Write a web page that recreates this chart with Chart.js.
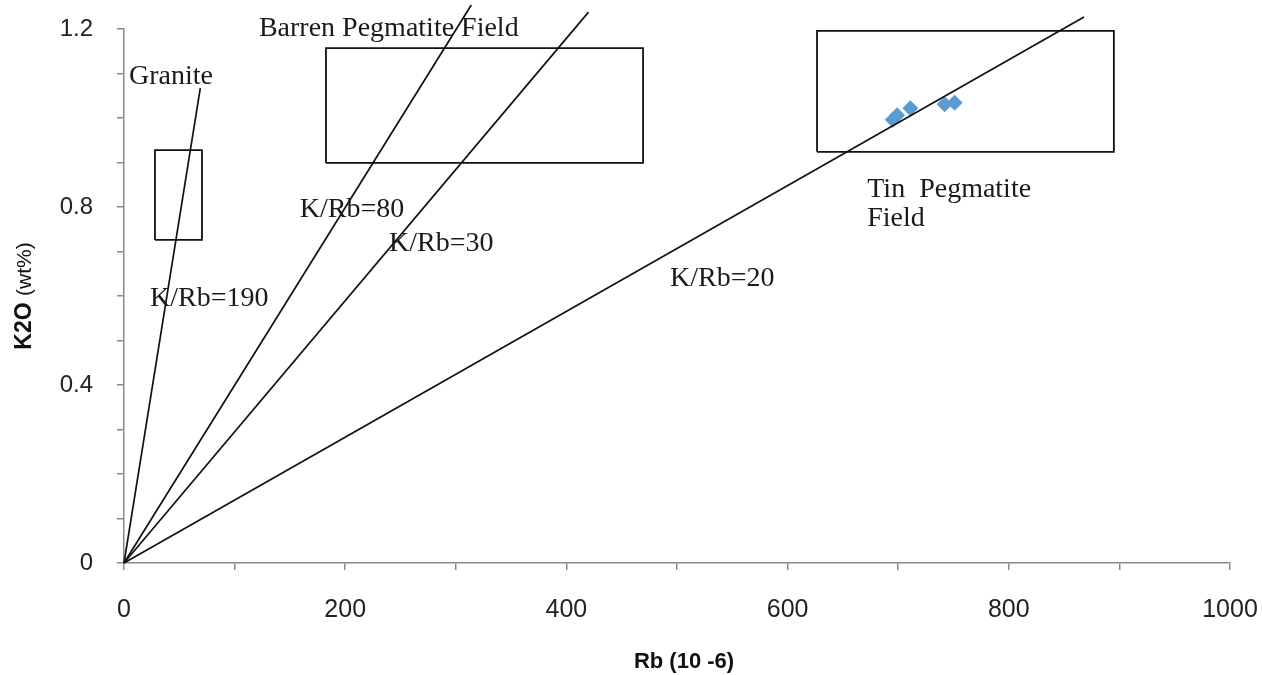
<!DOCTYPE html>
<html>
<head>
<meta charset="utf-8">
<script src="https://cdn.jsdelivr.net/npm/chart.js@4/dist/chart.umd.min.js"></script>
<style>
html,body{margin:0;padding:0;background:#fff;}
#wrap{width:1262px;height:675px;position:relative;}
</style>
</head>
<body>
<div id="wrap"><canvas id="c" width="1262" height="675"></canvas></div>
<script>
// ---- data ----
const xTickLabels = ['0', '200', '400', '600', '800', '1000'];
const yTickLabels = ['0', '0.4', '0.8', '1.2'];

// K/Rb reference lines from the origin
const ratioLineNames = ['K/Rb=190', 'K/Rb=80', 'K/Rb=30', 'K/Rb=20'];
const ratioLineEndRb = [69, 314, 420, 868];
const ratioLineEndK2O = [1.067, 1.254, 1.238, 1.227];

// Field boxes: Rb min/max, K2O min/max
const boxNames = ['Granite', 'Barren Pegmatite Field', 'Tin Pegmatite Field'];
const boxRbMin = [28, 182.6, 626.6];
const boxRbMax = [70.5, 469.3, 895];
const boxK2OMin = [0.726, 0.899, 0.924];
const boxK2OMax = [0.928, 1.157, 1.196];

// Samples
const sampleRb = [695, 699, 711, 742, 751];
const sampleK2O = [0.996, 1.006, 1.022, 1.031, 1.034];

// Text annotations (anchored in data coordinates)
const noteTexts = ['Granite', 'Barren Pegmatite Field', 'K/Rb=80', 'K/Rb=30', 'K/Rb=190', 'K/Rb=20', 'Tin  Pegmatite', 'Field'];
const noteRb = [4.5, 122, 159, 239.6, 23.5, 493.7, 672, 672];
const noteK2O = [1.094, 1.200, 0.793, 0.717, 0.593, 0.640, 0.838, 0.773];

// ---- build datasets ----
const datasets = [];
ratioLineNames.forEach((n, i) => {
  datasets.push({
    label: n,
    data: [{x: 0, y: 0}, {x: ratioLineEndRb[i], y: ratioLineEndK2O[i]}],
    showLine: true, borderColor: '#111', borderWidth: 1.7,
    pointRadius: 0, clip: false, order: 1
  });
});
boxNames.forEach((n, i) => {
  const a = boxRbMin[i], b = boxRbMax[i], c = boxK2OMin[i], d = boxK2OMax[i];
  datasets.push({
    label: n,
    data: [{x: a, y: c}, {x: b, y: c}, {x: b, y: d}, {x: a, y: d}, {x: a, y: c}],
    showLine: true, borderColor: '#111', borderWidth: 1.8,
    pointRadius: 0, clip: false, order: 1
  });
});
datasets.push({
  label: 'Samples',
  data: sampleRb.map((v, i) => ({x: v, y: sampleK2O[i]})),
  showLine: false, pointStyle: 'rectRot', pointRadius: 8,
  backgroundColor: '#5B9BD5', borderColor: '#5B9BD5', borderWidth: 0, order: 2
});

const notesPlugin = {
  id: 'notes',
  afterDatasetsDraw(chart) {
    const ctx = chart.ctx, xs = chart.scales.x, ys = chart.scales.y;
    ctx.save();
    ctx.fillStyle = '#1a1a1a';
    ctx.font = '28px "Liberation Serif", "Times New Roman", serif';
    ctx.textBaseline = 'middle';
    ctx.textAlign = 'left';
    noteTexts.forEach((t, i) => {
      ctx.fillText(t, xs.getPixelForValue(noteRb[i]), ys.getPixelForValue(noteK2O[i]));
    });
    // axis titles
    const ca = chart.chartArea;
    ctx.fillStyle = '#111';
    ctx.font = 'bold 22px "Liberation Sans", Arial, sans-serif';
    ctx.textAlign = 'center';
    ctx.fillText('Rb (10 -6)', (ca.left + ca.right) / 2 + 7, 662);
    ctx.save();
    ctx.translate(25, (ca.top + ca.bottom) / 2);
    ctx.rotate(-Math.PI / 2);
    const p1 = 'K2O ', p2 = '(wt%)';
    ctx.font = 'bold 23px "Liberation Sans", Arial, sans-serif';
    const w1 = ctx.measureText(p1).width;
    ctx.font = '21px "Liberation Sans", Arial, sans-serif';
    const w2 = ctx.measureText(p2).width;
    ctx.textAlign = 'left';
    ctx.font = 'bold 23px "Liberation Sans", Arial, sans-serif';
    ctx.fillText(p1, -(w1 + w2) / 2, 0);
    ctx.font = '21px "Liberation Sans", Arial, sans-serif';
    ctx.fillText(p2, -(w1 + w2) / 2 + w1, 0);
    ctx.restore();
    ctx.restore();
  }
};

new Chart(document.getElementById('c'), {
  type: 'scatter',
  data: {datasets},
  plugins: [notesPlugin],
  options: {
    responsive: false,
    animation: false,
    events: [],
    layout: {padding: {left: 0, right: 32, top: 29, bottom: 0}},
    plugins: {legend: {display: false}, tooltip: {enabled: false}},
    scales: {
      x: {
        type: 'linear', min: 0, max: 1000,
        afterFit(s) { s.height = 112; s.paddingLeft = 0; s.paddingRight = 0; },
        border: {display: true, color: '#8a8a8a', width: 1.5},
        grid: {drawOnChartArea: false, drawTicks: true, tickLength: 7, color: '#8a8a8a', lineWidth: 1.5},
        ticks: {
          stepSize: 100, padding: 25, maxRotation: 0, autoSkip: false,
          color: '#222', font: {family: '"Liberation Sans", Arial, sans-serif', size: 25},
          callback(v) { const s = String(Math.round(v)); return xTickLabels.includes(s) ? s : ''; }
        }
      },
      y: {
        type: 'linear', min: 0, max: 1.2,
        afterFit(s) { s.width = 124; s.paddingTop = 0; s.paddingBottom = 0; },
        border: {display: true, color: '#8a8a8a', width: 1.5},
        grid: {drawOnChartArea: false, drawTicks: true, tickLength: 7, color: '#8a8a8a', lineWidth: 1.5},
        ticks: {
          stepSize: 0.1, padding: 24, autoSkip: false,
          color: '#222', font: {family: '"Liberation Sans", Arial, sans-serif', size: 24},
          callback(v) { const s = String(Math.round(v * 10) / 10); return yTickLabels.includes(s) ? s : ''; }
        }
      }
    }
  }
});
</script>
</body>
</html>
